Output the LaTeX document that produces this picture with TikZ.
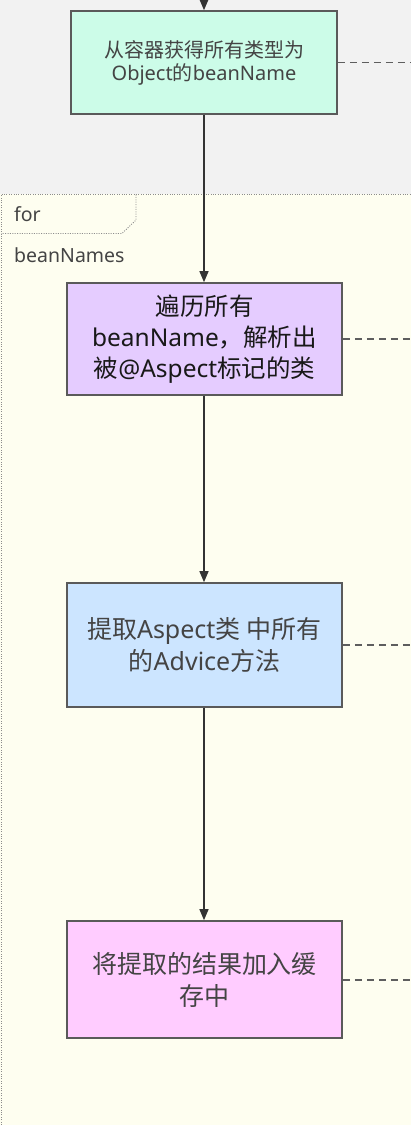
\documentclass[tikz,border=0pt]{standalone}
\usepackage{fontspec}
\setmainfont{Noto Sans}
\newfontfamily\cjk{Noto Sans CJK SC}
\usetikzlibrary{arrows.meta}
\definecolor{bggray}{HTML}{F2F2F2}
\definecolor{loopfill}{HTML}{FEFEF0}
\definecolor{loopline}{HTML}{8C8C8C}
\definecolor{boxline}{HTML}{5A5A5A}
\definecolor{arrowline}{HTML}{333333}
\definecolor{dashline}{HTML}{5E5E5E}
\definecolor{mintfill}{HTML}{CCFCE8}
\definecolor{lavfill}{HTML}{E5CCFF}
\definecolor{bluefill}{HTML}{CCE5FF}
\definecolor{pinkfill}{HTML}{FFCCFF}
\definecolor{txtgray}{HTML}{444444}
\begin{document}
\begin{tikzpicture}[x=1pt,y=-1pt,
  stepbox/.style={draw=boxline, line width=1.6pt, align=center, inner sep=0pt},
  flow/.style={draw=arrowline, line width=1.3pt, -{Triangle[width=9pt,length=11pt]}},
  dashlink/.style={draw=dashline, line width=1.8pt, dash pattern=on 7.5pt off 4.5pt},
  frameline/.style={draw=loopline, line width=0.9pt, dash pattern=on 1pt off 1.4pt},
  looptext/.style={anchor=west, text=txtgray, font=\fontsize{19.5}{22}\selectfont, inner sep=0pt}
]
\useasboundingbox (0,0) rectangle (411,1125);
\fill[bggray] (0,0) rectangle (411,194);
\fill[loopfill] (0,194) rectangle (411,1125);
\draw[frameline] (1,1125) -- (1,194.5) -- (411,194.5);
\draw[frameline] (136,194.5) -- (136,220) -- (122,233.5) -- (1,233.5);
\node[looptext] (fortxt) at (14,214) {for};
\node[looptext] (beantxt) at (14,255) {beanNames};

\node[stepbox, fill=mintfill, minimum width=266pt, minimum height=103pt, text=txtgray,
  font=\fontsize{20}{23}\selectfont] (b1) at (204,62.5) {{\cjk 从容器获得所有类型为}\\Object{\cjk 的}beanName};
\node[stepbox, fill=lavfill, minimum width=275pt, minimum height=112pt, text=black!90,
  font=\fontsize{24.5}{31}\selectfont] (b2) at (204.5,339) {{\cjk 遍历所有}\\beanName{\cjk ，解析出}\\{\cjk 被}@Aspect{\cjk 标记的类}};
\node[stepbox, fill=bluefill, minimum width=275pt, minimum height=124pt, text=txtgray,
  font=\fontsize{25}{32}\selectfont] (b3) at (204.5,645) {{\cjk 提取}Aspect{\cjk 类} {\cjk 中所有}\\{\cjk 的}Advice{\cjk 方法}};
\node[stepbox, fill=pinkfill, minimum width=275pt, minimum height=117pt, text=txtgray,
  font=\fontsize{25}{32}\selectfont] (b4) at (204.5,979.5) {{\cjk 将提取的结果加入缓}\\{\cjk 存中}};

\coordinate (top) at (204,0);
\coordinate (r1) at (411,62.5);
\coordinate (r2) at (411,339);
\coordinate (r3) at (411,645);
\coordinate (r4) at (411,980);

\draw[flow] (top) -- (b1.north);
\draw[flow] (b1.south) -- (b1.south |- b2.north);
\draw[flow] (b2.south -| b1.south) -- (b1.south |- b3.north);
\draw[flow] (b3.south -| b1.south) -- (b1.south |- b4.north);

\draw[dashlink] (b1.east |- r1) -- (r1);
\draw[dashlink] (b2.east |- r2) -- (r2);
\draw[dashlink] (b3.east |- r3) -- (r3);
\draw[dashlink] (b4.east |- r4) -- (r4);
\end{tikzpicture}
\end{document}
